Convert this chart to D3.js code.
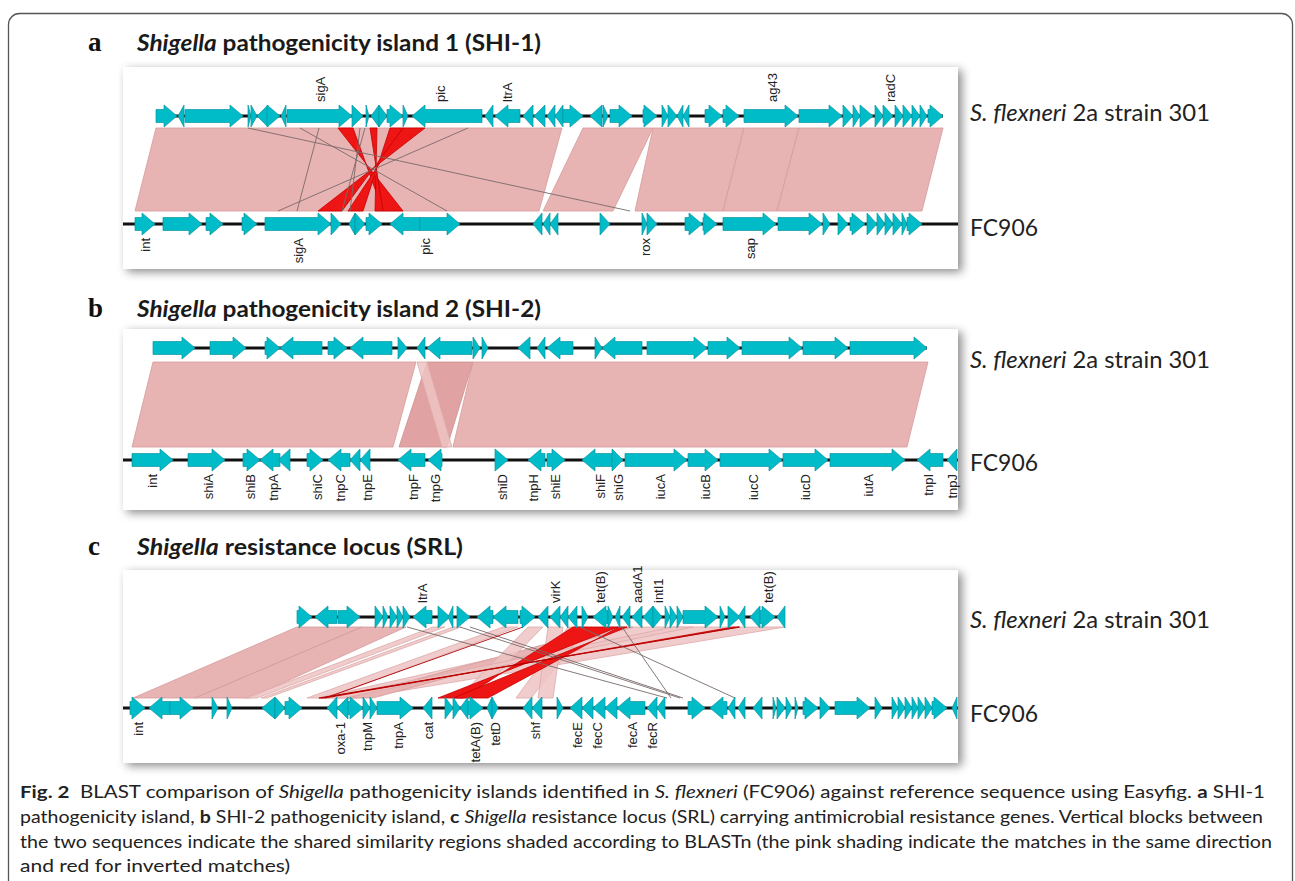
<!DOCTYPE html>
<html>
<head>
<meta charset="utf-8">
<script src="https://cdn.jsdelivr.net/npm/d3@7"></script>
<style>
body { margin: 0; background: #fff; }
svg { display: block; }
</style>
</head>
<body>
<div id="chart"></div>
<script>
// gene positions in kb: [start, end, strand]
var shi1Ref = [[3.3,5.4,1],[5.5,6.1,-1],[6.2,12.0,1],[12.5,12.8,1],[12.8,13.4,1],[13.4,14.5,-1],[14.4,15.7,1],[15.8,16.3,-1],
  [16.4,22.9,1],[22.9,24.0,1],[24.3,24.6,1],[24.8,25.6,-1],[25.6,26.4,1],[26.4,28.0,1],[28.0,28.5,1],[28.9,35.9,-1],
  [36.2,37.0,-1],[37.2,39.7,-1],[40.0,41.0,-1],[41.1,42.2,-1],[42.4,43.2,-1],[43.2,44.0,-1],[44.0,46.0,1],[46.7,47.9,-1],
  [48.0,48.5,1],[48.7,50.9,1],[52.0,53.4,1],[53.9,54.5,1],[54.5,55.4,1],[55.4,56.0,-1],[56.0,56.6,-1],[58.2,59.9,1],
  [60.0,61.6,1],[62.1,67.5,1],[67.6,71.9,1],[72.0,73.0,1],[73.0,73.7,1],[73.7,75.0,1],[75.2,76.0,1],[76.0,77.0,1],
  [77.2,78.0,1],[78.0,78.9,1],[78.9,79.7,1],[79.7,80.4,1],[80.5,82.0,1]];
var shi1Query = [[1.2,3.2,1],[4.0,7.9,1],[8.3,10.0,1],[11.9,13.4,1],[14.2,20.8,1],[20.8,21.8,1],[22.6,23.2,-1],[23.2,24.2,1],
  [24.3,25.9,1],[26.7,29.7,-1],[29.7,33.7,1],[41.0,41.9,-1],[42.0,42.7,-1],[42.7,43.5,-1],[47.7,48.7,1],[51.9,52.4,1],
  [52.4,53.4,1],[56.2,57.9,1],[58.0,59.4,1],[60.0,65.3,1],[65.5,69.9,1],[70.0,70.7,1],[71.5,72.5,1],[72.7,74.2,1],
  [74.4,75.4,1],[75.4,76.2,1],[76.2,77.0,1],[77.0,77.9,1],[77.9,78.4,1],[78.4,79.9,1]];
var shi1RefLabels = [[19.7,"sigA"],[31.7,"pic"],[38.4,"ltrA"],[64.9,"ag43"],[76.7,"radC"]];
var shi1QueryLabels = [[2.2,"int"],[17.5,"sigA"],[30.2,"pic"],[52.2,"rox"],[62.7,"sap"]];
// BLASTn hits: [kind, refStart, refEnd, queryStart, queryEnd]
var shi1Hits = [["same",3.3,43.9,1.2,41.6],["same",46.0,53.0,42.0,49.0],["same",53.0,62.1,51.2,60.0],
  ["same",62.1,67.6,60.0,65.4],["same",67.6,82.0,65.4,79.9],
  ["inv",21.5,23.0,26.0,28.0],["inv",24.7,25.4,25.2,26.0],["inv",26.7,28.0,22.5,24.0],["inv",28.0,30.2,19.5,21.9],
  ["line",12.5,12.5,50.7,50.7],["line",17.7,17.7,32.4,32.4],["line",19.6,19.6,17.4,17.4],["line",24.2,24.2,21.9,21.9],
  ["line",34.5,34.5,15.5,15.5],["line",23.7,23.7,22.7,22.7]];

var shi2Ref = [[3.0,7.2,1],[8.7,12.3,1],[14.2,15.7,1],[15.7,19.9,-1],[20.5,22.4,1],[22.7,26.9,-1],[27.5,28.4,1],[29.4,30.2,-1],
  [30.4,34.9,-1],[35.0,35.7,1],[35.9,36.5,1],[39.5,40.7,-1],[41.4,42.2,-1],[42.4,45.0,-1],[47.2,47.9,1],[47.9,51.9,-1],
  [52.4,58.4,1],[58.5,61.7,1],[61.9,67.9,1],[68.0,72.5,1],[72.7,80.4,1]];
var shi2Query = [[0.9,5.0,1],[6.5,10.2,1],[12.0,13.7,1],[13.7,15.7,-1],[15.5,16.7,-1],[18.4,20.0,1],[20.5,22.7,-1],[22.7,23.7,-1],
  [23.7,24.7,-1],[27.5,30.2,-1],[30.5,31.9,-1],[37.2,38.5,1],[40.5,42.2,-1],[42.4,44.2,1],[45.9,48.9,-1],[48.9,50.0,1],
  [50.2,56.4,1],[56.5,59.5,1],[59.7,65.9,1],[66.0,70.5,1],[70.7,78.2,1],[79.4,82.0,-1],[82.4,83.4,-1]];
var shi2RefLabels = [];
var shi2QueryLabels = [[2.9,"int"],[8.5,"shiA"],[12.7,"shiB"],[15.0,"tnpA"],[19.4,"shiC"],[21.7,"tnpC"],[24.4,"tnpE"],
  [29.0,"tnpF"],[31.2,"tnpG"],[37.9,"shiD"],[41.0,"tnpH"],[43.2,"shiE"],[47.7,"shiF"],[49.5,"shiG"],[53.7,"iucA"],
  [58.2,"iucB"],[63.0,"iucC"],[68.2,"iucD"],[74.5,"iutA"],[80.5,"tnpI"],[82.9,"tnpJ"]];
var shi2Hits = [["same",3.0,29.3,0.9,27.0],["dark",30.4,35.0,27.6,32.4],["light",29.4,30.4,31.9,32.9],
  ["same",35.0,80.5,33.0,78.4]];

var srlRef = [[17.4,18.9,1],[19.2,21.4,-1],[21.5,23.7,1],[25.2,26.0,1],[26.0,26.5,1],[26.7,27.4,1],[27.4,28.0,1],[28.0,28.7,1],
  [29.0,30.9,-1],[31.5,32.7,1],[32.5,33.0,-1],[33.4,34.7,1],[35.4,37.0,-1],[37.0,39.5,-1],[39.7,41.2,1],[41.5,42.5,-1],
  [42.7,43.7,-1],[43.7,44.5,-1],[44.5,45.4,-1],[45.9,46.5,1],[47.0,48.5,-1],[48.5,49.0,1],[49.2,49.7,-1],[49.9,50.7,-1],
  [50.9,51.9,-1],[52.0,53.0,-1],[53.0,53.9,1],[54.2,54.7,1],[54.7,55.4,1],[55.4,56.0,1],[56.0,59.5,1],[59.7,60.2,1],
  [60.5,61.7,1],[61.5,62.2,-1],[62.7,63.7,-1],[63.7,65.2,1],[65.4,66.2,-1]];
var srlQuery = [[0.7,2.2,1],[2.6,4.7,-1],[4.7,7.0,1],[8.9,9.5,1],[10.4,10.9,1],[13.9,15.2,-1],[15.2,16.2,1],[16.2,17.9,1],
  [20.4,21.4,-1],[21.4,22.5,-1],[22.5,24.0,1],[24.0,24.7,1],[24.7,25.4,1],[25.4,29.0,1],[30.0,30.9,-1],[32.2,33.0,1],
  [33.0,33.7,1],[33.7,34.5,-1],[34.5,36.0,1],[36.4,36.9,-1],[36.9,37.5,1],[40.0,40.9,-1],[40.9,41.9,-1],[43.4,44.0,1],
  [44.7,45.9,-1],[45.9,47.0,-1],[47.0,48.2,-1],[48.2,49.4,-1],[49.4,52.2,-1],[52.4,53.4,-1],[53.4,54.2,-1],[56.5,58.2,1],
  [58.7,60.4,-1],[60.5,61.2,-1],[61.5,62.2,-1],[63.0,63.9,-1],[65.0,65.3,1],[65.4,66.2,1],[66.3,66.9,1],[67.2,67.5,1],
  [68.0,69.5,1],[69.7,70.7,1],[71.2,74.7,1],[75.2,75.9,1],[76.9,77.5,1],[77.5,78.2,1],[78.2,78.9,1],[78.9,79.5,1],
  [79.5,80.2,1],[80.2,80.9,1],[80.9,82.4,1],[82.9,83.4,-1]];
var srlRefLabels = [[29.9,"ltrA"],[43.2,"virK"],[47.7,"tet(B)"],[51.4,"aadA1"],[53.5,"intI1"],[64.5,"tet(B)"]];
var srlQueryLabels = [[1.5,"int"],[21.7,"oxa-1"],[24.4,"tnpM"],[27.5,"tnpA"],[30.5,"cat"],[35.2,"tetA(B)"],[37.2,"tetD"],
  [41.2,"shf"],[45.4,"fecE"],[47.4,"fecC"],[50.9,"fecA"],[52.9,"fecR"]];
var srlHits = [["same",17.4,23.9,1.0,7.2],["same",23.9,28.3,7.2,12.7],["light",31.0,32.2,12.2,13.4],
  ["light",33.0,33.8,13.8,14.4],["light",38.0,39.5,18.4,20.4],["light",51.0,66.2,19.5,23.5],["same",48.5,51.0,22.5,25.0],
  ["light",44.5,46.5,39.3,40.8],["light",42.5,44.0,41.5,43.0],["light",40.5,42.0,33.5,35.0],["light",55.0,57.0,20.5,22.0],
  ["inv",45.0,49.5,31.5,34.0],["inv",49.6,50.4,33.0,36.5],["inv",61.0,61.6,19.6,20.2],
  ["line",28.4,28.4,54.4,54.4],["line",33.7,33.7,55.7,55.7],["line",34.7,34.7,56.0,56.0],
  ["line",45.7,45.7,61.2,61.2],["line",49.9,49.9,54.8,54.8],["redline",61.7,61.7,19.8,19.8],["redline",40.0,40.0,20.2,20.2]];

var panelLetters = ["a","b","c"];
var panelTitles = [["Shigella"," pathogenicity island 1 (SHI-1)"],["Shigella"," pathogenicity island 2 (SHI-2)"],
  ["Shigella"," resistance locus (SRL)"]];

var W = 1295, H = 881;
var svg = d3.select("#chart").append("svg").attr("width", W).attr("height", H);

var defs = svg.append("defs");
var f = defs.append("filter").attr("id", "shadow").attr("x", "-5%").attr("y", "-10%").attr("width", "112%").attr("height", "125%");
f.append("feDropShadow").attr("dx", 4).attr("dy", 3).attr("stdDeviation", 5).attr("flood-color", "#000").attr("flood-opacity", 0.45);

// outer figure frame
svg.append("rect").attr("x", 8.5).attr("y", 13.5).attr("width", 1284).attr("height", 900).attr("rx", 11)
  .attr("fill", "#fff").attr("stroke", "#555").attr("stroke-width", 1.3);

var x = d3.scaleLinear().domain([0, 83.5]).range([123, 958]);

var panels = [
  {ref: shi1Ref, query: shi1Query, refLab: shi1RefLabels, qLab: shi1QueryLabels, hits: shi1Hits,
   head: 51, box: [123, 67, 835, 202], topY: 116, botY: 224, hitT: 128, hitB: 211, labT: 121, labB: 236},
  {ref: shi2Ref, query: shi2Query, refLab: shi2RefLabels, qLab: shi2QueryLabels, hits: shi2Hits,
   head: 317, box: [123, 329, 835, 181], topY: 348, botY: 460, hitT: 362, hitB: 447, labT: 368, labB: 471},
  {ref: srlRef, query: srlQuery, refLab: srlRefLabels, qLab: srlQueryLabels, hits: srlHits,
   head: 555, box: [123, 570, 835, 193], topY: 617, botY: 708, hitT: 627, hitB: 698, labT: 628, labB: 722}
];

var hitFill = {same: "#e8b3b3", dark: "#e0a2a2", light: "#efc3c3", inv: "#ee1515"};
var hitStroke = {same: "#d59a9a", dark: "#cf8f8f", light: "#ddaaaa", inv: "#c80000"};

function arrowPath(g, yc) {
  var hh = 11, bh = 6.5;
  var x1 = x(g[0]), x2 = x(g[1]), head = Math.min(x2 - x1, 13), xb;
  if (g[2] > 0) {
    xb = x2 - head;
    return "M" + x1 + "," + (yc - bh) + "L" + xb + "," + (yc - bh) + "L" + xb + "," + (yc - hh) + "L" + x2 + "," + yc +
      "L" + xb + "," + (yc + hh) + "L" + xb + "," + (yc + bh) + "L" + x1 + "," + (yc + bh) + "Z";
  }
  xb = x1 + head;
  return "M" + x2 + "," + (yc - bh) + "L" + xb + "," + (yc - bh) + "L" + xb + "," + (yc - hh) + "L" + x1 + "," + yc +
    "L" + xb + "," + (yc + hh) + "L" + xb + "," + (yc + bh) + "L" + x2 + "," + (yc + bh) + "Z";
}

panels.forEach(function(p, i) {
  var g = svg.append("g");

  // panel heading
  g.append("text").attr("x", 88).attr("y", p.head).text(panelLetters[i])
    .style("font-family", "Liberation Serif, serif").style("font-weight", "bold").style("font-size", "27px").attr("fill", "#111");
  var t = g.append("text").attr("x", 137).attr("y", p.head).attr("textLength", i == 2 ? 326 : 404)
    .attr("lengthAdjust", "spacingAndGlyphs")
    .style("font-family", "Lato, sans-serif").style("font-weight", "bold").style("font-size", "23px").attr("fill", "#1a1a1a");
  t.append("tspan").style("font-style", "italic").text(panelTitles[i][0]);
  t.append("tspan").text(panelTitles[i][1]);

  // image box
  g.append("rect").attr("x", p.box[0]).attr("y", p.box[1]).attr("width", p.box[2]).attr("height", p.box[3])
    .attr("fill", "#fff").attr("filter", "url(#shadow)");

  // blast hits
  g.selectAll(".hit").data(p.hits.filter(function(h) { return h[0] != "line" && h[0] != "redline"; }))
    .enter().append("path")
    .attr("d", function(h) {
      var pts = h[0] == "inv"
        ? [[x(h[1]), p.hitT], [x(h[2]), p.hitT], [x(h[3]), p.hitB], [x(h[4]), p.hitB]]
        : [[x(h[1]), p.hitT], [x(h[2]), p.hitT], [x(h[4]), p.hitB], [x(h[3]), p.hitB]];
      return "M" + pts.join("L") + "Z";
    })
    .attr("fill", function(h) { return hitFill[h[0]]; })
    .attr("fill-opacity", function(h) { return h[0] == "light" ? 0.85 : 1; })
    .attr("stroke", function(h) { return hitStroke[h[0]]; })
    .attr("stroke-width", 0.8);
  g.selectAll(".hline").data(p.hits.filter(function(h) { return h[0] == "line" || h[0] == "redline"; }))
    .enter().append("line")
    .attr("x1", function(h) { return x(h[1]); }).attr("y1", p.hitT)
    .attr("x2", function(h) { return x(h[3]); }).attr("y2", p.hitB)
    .attr("stroke", function(h) { return h[0] == "line" ? "#7a6a6a" : "#b00000"; })
    .attr("stroke-width", 0.9);

  // sequence backbones
  var ext = [d3.min(p.ref, function(d) { return d[0]; }), d3.max(p.ref, function(d) { return d[1]; })];
  g.append("line").attr("x1", x(ext[0])).attr("x2", x(ext[1])).attr("y1", p.topY).attr("y2", p.topY)
    .attr("stroke", "#111").attr("stroke-width", 3);
  g.append("line").attr("x1", x.range()[0]).attr("x2", x.range()[1]).attr("y1", p.botY).attr("y2", p.botY)
    .attr("stroke", "#111").attr("stroke-width", 3);

  // genes
  [[p.ref, p.topY], [p.query, p.botY]].forEach(function(tr) {
    g.selectAll(null).data(tr[0]).enter().append("path")
      .attr("d", function(d) { return arrowPath(d, tr[1]); })
      .attr("fill", "#00bcc8").attr("stroke", "#0a97a2").attr("stroke-width", 0.7);
  });

  // gene names
  g.selectAll(null).data(p.refLab).enter().append("text")
    .attr("transform", function(d) { return "translate(" + x(d[0]) + "," + (p.topY - 14) + ") rotate(-90)"; })
    .attr("dy", "0.35em").attr("text-anchor", "start").text(function(d) { return d[1]; })
    .style("font-family", "Liberation Sans, Arial, sans-serif").style("font-size", "13px").attr("fill", "#222");
  g.selectAll(null).data(p.qLab).enter().append("text")
    .attr("transform", function(d) { return "translate(" + x(d[0]) + "," + (p.botY + 14) + ") rotate(-90)"; })
    .attr("dy", "0.35em").attr("text-anchor", "end").text(function(d) { return d[1]; })
    .style("font-family", "Liberation Sans, Arial, sans-serif").style("font-size", "13px").attr("fill", "#222");

  // sequence names
  var s = g.append("text").attr("x", 970).attr("y", p.labT).attr("textLength", 240).attr("lengthAdjust", "spacingAndGlyphs")
    .style("font-family", "Lato, sans-serif").style("font-size", "23px").attr("fill", "#222");
  s.append("tspan").style("font-style", "italic").text("S. flexneri");
  s.append("tspan").text(" 2a strain 301");
  g.append("text").attr("x", 970).attr("y", p.labB).attr("textLength", 68).attr("lengthAdjust", "spacingAndGlyphs").text("FC906")
    .style("font-family", "Lato, sans-serif").style("font-size", "23px").attr("fill", "#222");
});

// caption
var capLines = [
  {y: 798, len: 1245, parts: [["Fig. 2", "b"], ["  BLAST comparison of ", ""], ["Shigella", "i"], [" pathogenicity islands identified in ", ""],
    ["S. flexneri", "i"], [" (FC906) against reference sequence using Easyfig. ", ""], ["a", "b"], [" SHI-1", ""]]},
  {y: 823, len: 1243, parts: [["pathogenicity island, ", ""], ["b", "b"], [" SHI-2 pathogenicity island, ", ""], ["c", "b"], [" ", ""],
    ["Shigella", "i"], [" resistance locus (SRL) carrying antimicrobial resistance genes. Vertical blocks between", ""]]},
  {y: 848, len: 1252, parts: [["the two sequences indicate the shared similarity regions shaded according to BLASTn (the pink shading indicate the matches in the same direction", ""]]},
  {y: 872, len: 270, parts: [["and red for inverted matches)", ""]]}
];
capLines.forEach(function(l) {
  var t = svg.append("text").attr("x", 20).attr("y", l.y).attr("textLength", l.len).attr("lengthAdjust", "spacingAndGlyphs")
    .style("font-family", "Lato, sans-serif").style("font-size", "17.5px").attr("fill", "#222");
  l.parts.forEach(function(pt) {
    t.append("tspan").text(pt[0])
      .style("font-weight", pt[1] == "b" ? "bold" : "normal")
      .style("font-style", pt[1] == "i" ? "italic" : "normal")
      .style("white-space", "pre");
  });
});
</script>
</body>
</html>
